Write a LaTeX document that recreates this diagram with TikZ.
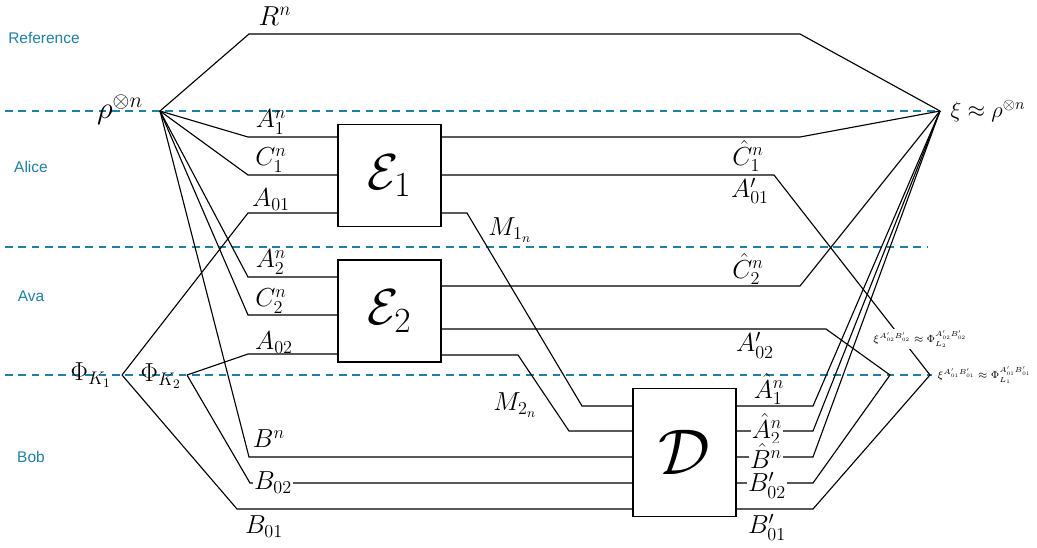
\RequirePackage{fix-cm}
\documentclass[tikz,border=0pt]{standalone}
\usepackage{fontspec}
\newfontfamily\regfont{Liberation Sans}
\usetikzlibrary{calc}
\definecolor{regblue}{RGB}{30,128,165}

\begin{document}
\begin{tikzpicture}[
  x=0.025cm, y=-0.025cm,
  wire/.style={draw=black, line width=0.8pt},
  regline/.style={draw=regblue, line width=0.75pt, dash pattern=on 5.5pt off 4pt},
  reglabel/.style={text=regblue, inner sep=0pt, font=\regfont\fontsize{11}{13}\selectfont},
  lab/.style={inner sep=1pt, font=\fontsize{18.5}{20}\selectfont},
  onwire/.style={lab, fill=white, inner sep=0.6pt},
  tinylab/.style={inner sep=1pt, font=\fontsize{7.4}{9}\selectfont},
  procbox/.style={draw=black, line width=0.8pt, fill=white,
                  minimum width=2.575cm, inner sep=0pt},
]
\useasboundingbox (0,0) rectangle (1037,547);

% ---- vertices ----
\coordinate (rho) at (160,111);
\coordinate (xi) at (940,111);
\coordinate (phiK1) at (122,375);
\coordinate (phiK2) at (187,375);
\coordinate (vL2) at (890,375);
\coordinate (vL1) at (930,375);

% ---- region separators ----
\draw[regline] (5,111) -- (xi);
\draw[regline] (5,247) -- (928,247);
\draw[regline] (5,375) -- (932,375);

\node[reglabel] (regRef) at (44,38) {Reference};
\node[reglabel] (regAlice) at (31,167) {Alice};
\node[reglabel] (regAva) at (31,296) {Ava};
\node[reglabel] (regBob) at (31,457) {Bob};

% ---- boxes ----
\node[procbox, minimum height=2.55cm] (E1) at (389.5,175.5)
  {\fontsize{36}{40}\selectfont$\mathcal{E}_1$};
\node[procbox, minimum height=2.55cm] (E2) at (389.5,311)
  {\fontsize{36}{40}\selectfont$\mathcal{E}_2$};
\node[procbox, minimum height=3.2cm] (D) at (684.5,452.5)
  {\fontsize{46}{50}\selectfont$\mathcal{D}$};

% ---- input wires ----
\draw[wire] (rho) -- (249,34) -- (800,34) -- (xi);
\draw[wire] (rho) -- (248,137) -- (E1.west |- 0,137);
\draw[wire] (rho) -- (248,175) -- (E1.west |- 0,175);
\draw[wire] (phiK1) -- (248,213) -- (E1.west |- 0,213);
\draw[wire] (rho) -- (248,277) -- (E2.west |- 0,277);
\draw[wire] (rho) -- (248,315) -- (E2.west |- 0,315);
\draw[wire] (phiK2) -- (248,354) -- (E2.west |- 0,354);
\draw[wire] (rho) -- (249,457) -- (D.west |- 0,457);
\draw[wire] (phiK2) -- (250,483) -- (D.west |- 0,483);
\draw[wire] (phiK1) -- (237,509) -- (D.west |- 0,509);

% ---- encoder outputs ----
\draw[wire] (E1.east |- 0,137) -- (800,137) -- (xi);
\draw[wire] (E1.east |- 0,175) -- (774,175) -- (vL1);
\draw[wire] (E1.east |- 0,213) -- (467,213) -- (582,406) -- (D.west |- 0,406);
\draw[wire] (E2.east |- 0,286) -- (800,286) -- (xi);
\draw[wire] (E2.east |- 0,329) -- (826,329) -- (vL2);
\draw[wire] (E2.east |- 0,355) -- (518,355) -- (569,431) -- (D.west |- 0,431);

% ---- decoder outputs ----
\draw[wire] (D.east |- 0,406) -- (813,406) -- (xi);
\draw[wire] (D.east |- 0,431) -- (813,431) -- (xi);
\draw[wire] (D.east |- 0,457) -- (813,457) -- (xi);
\draw[wire] (D.east |- 0,483) -- (813,483) -- (vL2);
\draw[wire] (D.east |- 0,509) -- (813,509) -- (vL1);

% ---- labels ----
\node[lab, font=\fontsize{22}{24}\selectfont] (lRho) at (120,110) {$\rho^{\otimes n}$};
\node[lab, anchor=west, font=\fontsize{16}{18}\selectfont] (lXi) at (949,111)
  {$\xi\approx\rho^{\otimes n}$};
\node[lab, font=\fontsize{19.5}{21}\selectfont, inner sep=0pt] (lR) at (275,16) {$R^n$};
\node[lab] (lA1) at (271,122) {$A_1^n$};
\node[lab] (lC1) at (271,160) {$C_1^n$};
\node[lab] (lA01) at (271,200) {$A_{01}$};
\node[lab] (lA2) at (271,262) {$A_2^n$};
\node[lab] (lC2) at (271,301) {$C_2^n$};
\node[lab] (lA02) at (274,343) {$A_{02}$};
\node[lab] (lPhiK1) at (91,375) {$\Phi_{K_1}$};
\node[lab] (lPhiK2) at (161,376) {$\Phi_{K_2}$};
\node[lab] (lBn) at (269,439) {$B^n$};
\node[onwire] (lB02) at (273,483) {$B_{02}$};
\node[lab] (lB01) at (264,527) {$B_{01}$};
\node[lab] (lM1) at (510,230) {$M_{1_n}$};
\node[lab] (lM2) at (515,405) {$M_{2_n}$};
\node[lab] (lCh1) at (748,156) {$\hat{C}_1^n$};
\node[lab] (lAp01) at (750,191) {$A'_{01}$};
\node[lab] (lCh2) at (748,269) {$\hat{C}_2^n$};
\node[lab] (lAp02) at (755,345) {$A'_{02}$};
\node[lab] (lAh1) at (769,389) {$\hat{A}_1^n$};
\node[onwire] (lAh2) at (767,429) {$\hat{A}_2^n$};
\node[onwire] (lBh) at (766,456) {$\hat{B}^n$};
\node[onwire] (lBp02) at (767,485) {$B'_{02}$};
\node[lab] (lBp01) at (767,527) {$B'_{01}$};
\node[tinylab, fill=white] (lL2) at (920,339)
  {$\xi^{A'_{02}B'_{02}}\approx\Phi^{A'_{02}B'_{02}}_{L_2}$};
\node[tinylab, anchor=west] (lL1) at (936,375)
  {$\xi^{A'_{01}B'_{01}}\approx\Phi^{A'_{01}B'_{01}}_{L_1}$};

\end{tikzpicture}
\end{document}
